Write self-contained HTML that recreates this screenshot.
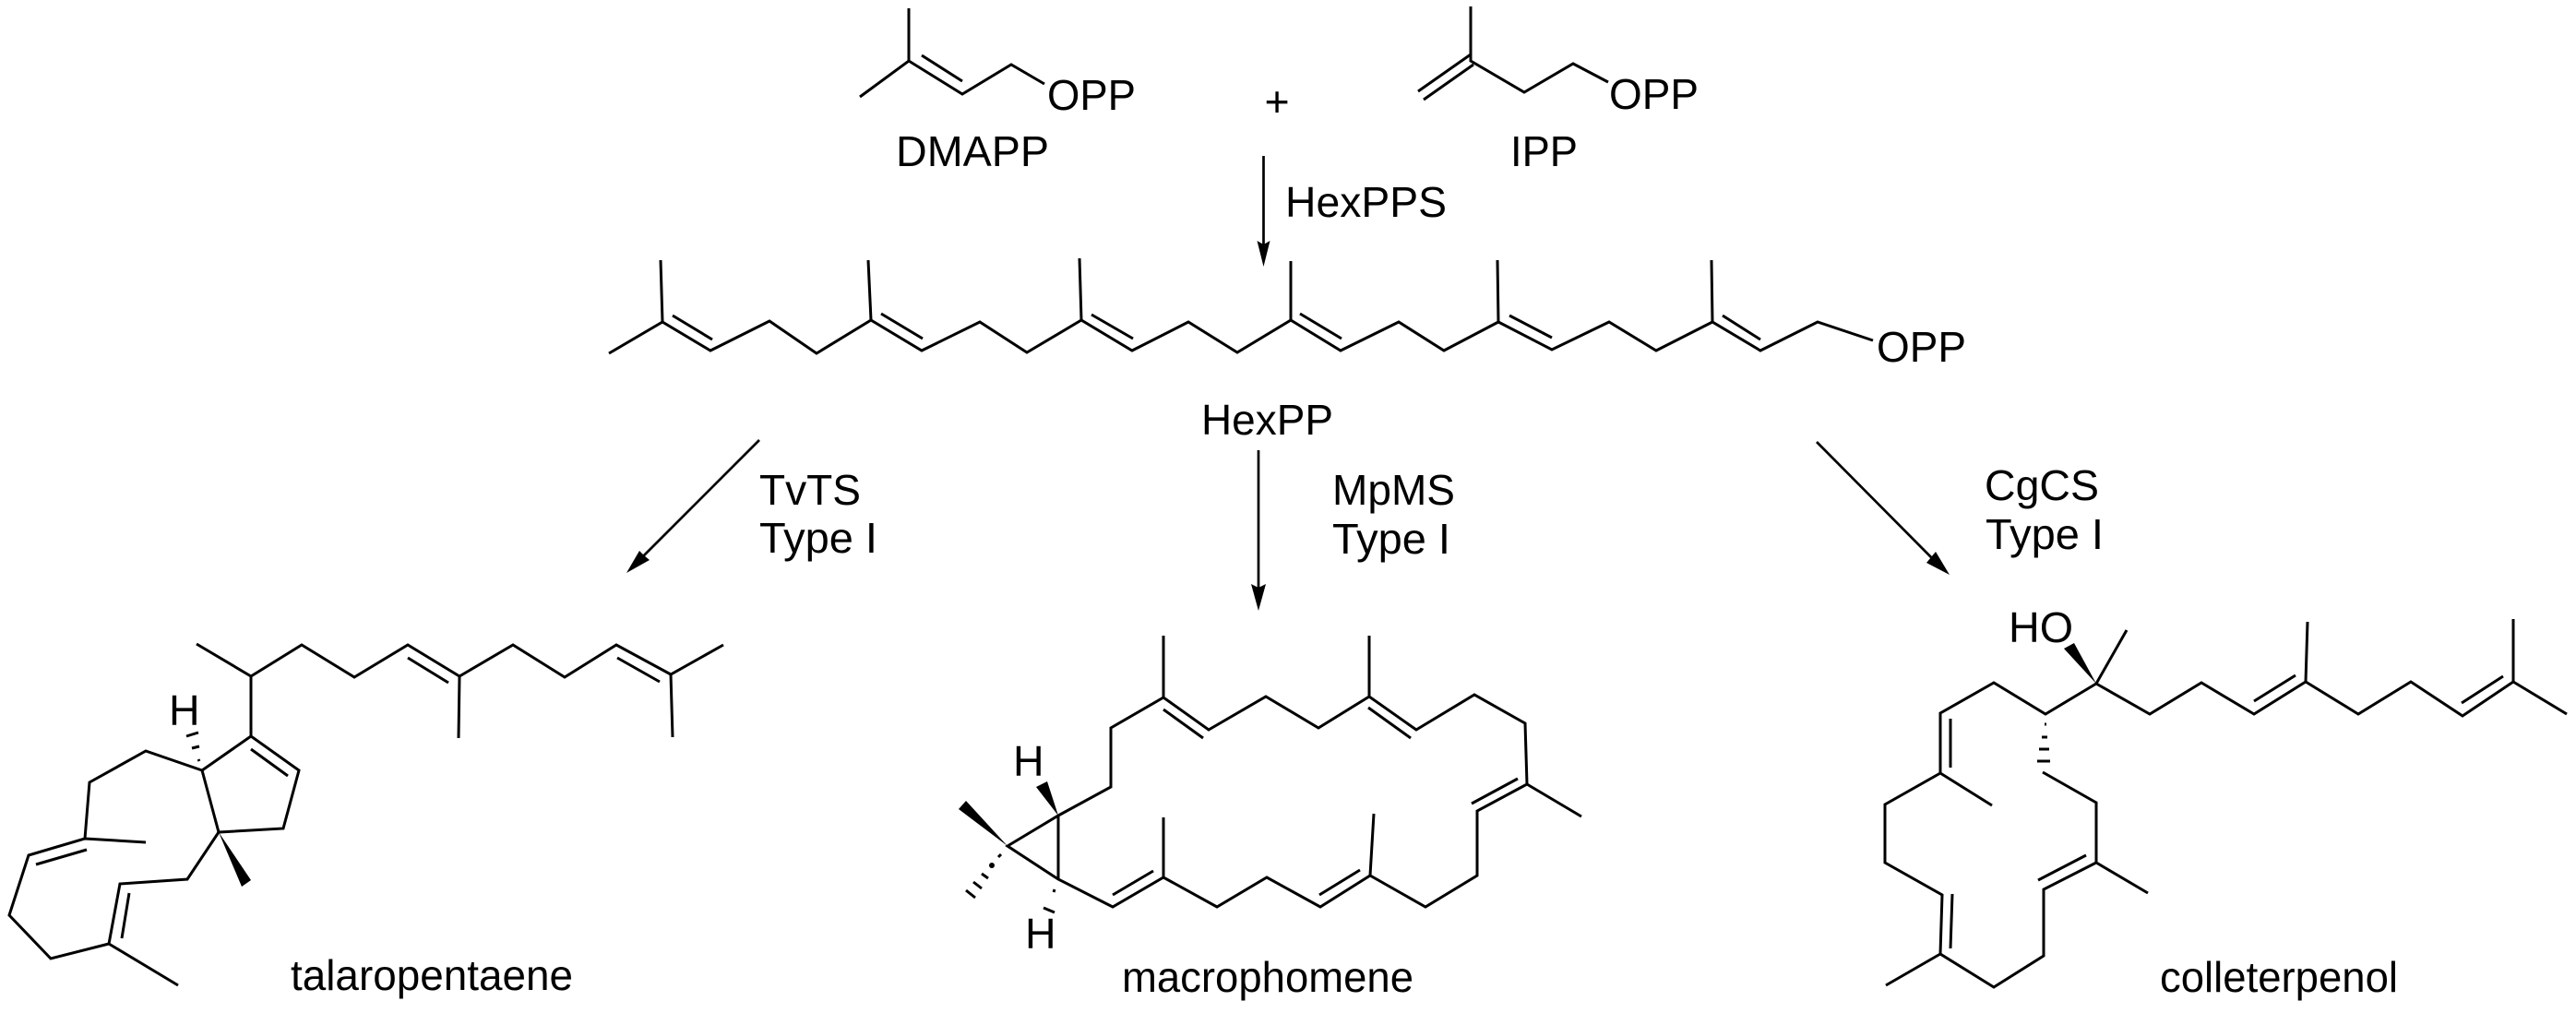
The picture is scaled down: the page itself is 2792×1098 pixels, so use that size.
<!DOCTYPE html>
<html lang="en">
<head>
<meta charset="utf-8">
<title>Sesterterpene biosynthesis</title>
<style>
html,body{margin:0;padding:0;background:#fff;width:2792px;height:1098px;overflow:hidden}
svg{display:block}
.b{fill:none;stroke:#000;stroke-width:3;stroke-linejoin:miter;stroke-linecap:butt}
.a{fill:none;stroke:#000;stroke-width:2.7}
.h{fill:none;stroke:#000;stroke-width:3}
.f{fill:#000;stroke:none}
text{font-family:"Liberation Sans",sans-serif;font-size:46.5px;fill:#000}
</style>
</head>
<body>
<svg width="2792" height="1098" viewBox="0 0 2792 1098" xmlns="http://www.w3.org/2000/svg">
<!-- DMAPP -->
<path class="b" d="M985 9V66M932 105L985 66L1043 102L1096 70L1132 91M999 60L1043 88"/>
<text x="1135" y="119" textLength="96" lengthAdjust="spacingAndGlyphs">OPP</text>
<text x="971" y="180" textLength="166" lengthAdjust="spacingAndGlyphs">DMAPP</text>
<text x="1370.5" y="126">+</text>
<!-- IPP -->
<path class="b" d="M1594 7V66L1652 100L1705 69L1743 89M1594 59L1537 99M1597 70L1543 108"/>
<text x="1744" y="118" textLength="97" lengthAdjust="spacingAndGlyphs">OPP</text>
<text x="1637" y="180" textLength="73" lengthAdjust="spacingAndGlyphs">IPP</text>
<!-- arrow top -->
<path class="a" d="M1369.5 169V266"/>
<path class="f" d="M1369.5 289L1362.5 261L1369.5 265L1376.5 261Z"/>
<text x="1393" y="235" textLength="175" lengthAdjust="spacingAndGlyphs">HexPPS</text>
<!-- HexPP chain -->
<path class="b" d="M660 383L718 349L770 380L834 348L885 383L944 347L999 380L1062 349L1113 382L1172 347L1227 380L1288 349L1341 382L1399 347L1453 380L1516 349L1565 380L1624 349L1682 379L1744 349L1795 380L1856 349L1908 380L1970 349L2030 369"/>
<path class="b" d="M716 282L718 349M729 342L772 368M941 282L944 347M955 340L1000 367M1170 280L1172 347M1183 341L1228 367M1399 283V347M1409 340L1454 367M1623 282L1624 349M1636 342L1682 366M1855 282L1856 349M1867 342L1908 368"/>
<text x="2034" y="392" textLength="97" lengthAdjust="spacingAndGlyphs">OPP</text>
<text x="1302" y="471" textLength="143" lengthAdjust="spacingAndGlyphs">HexPP</text>
<!-- arrows down -->
<path class="a" d="M823 477L697 603"/>
<path class="f" d="M679 621L693 597L698 602L704 607Z"/>
<text x="823" y="547" textLength="110" lengthAdjust="spacingAndGlyphs">TvTS</text>
<text x="823" y="599" textLength="128" lengthAdjust="spacingAndGlyphs">Type I</text>
<path class="a" d="M1364 488V638"/>
<path class="f" d="M1364 662L1356 633L1364 637L1372 633Z"/>
<text x="1444" y="547" textLength="133" lengthAdjust="spacingAndGlyphs">MpMS</text>
<text x="1444" y="600" textLength="128" lengthAdjust="spacingAndGlyphs">Type I</text>
<path class="a" d="M1969 479L2095 606"/>
<path class="f" d="M2113 623L2088 610L2093 604L2098 598Z"/>
<text x="2151" y="542" textLength="124" lengthAdjust="spacingAndGlyphs">CgCS</text>
<text x="2152" y="595" textLength="128" lengthAdjust="spacingAndGlyphs">Type I</text>
<!-- talaropentaene -->
<path class="b" d="M213 698L272 733L327 699L384 734L442 699L498 733L556 699L612 734L668 699L727 731L784 699M498 733L497 800M727 731L729 799M442 713L486 740M669 713L715 739M272 733V798L324 835L307 898L237 902L219 835L272 798M272 812L312 841"/>
<path class="b" d="M219 835L158 814L97 848L92 909L31 927L10 992L55 1039L118 1023L130 958L203 953L237 902M92 909L158 913M39 937L94 921M140 968L132 1017M118 1023L193 1068"/>
<path class="f" d="M237 902L262 961L272 954Z"/>
<path class="h" d="M215 823L216 825M208 811L216 809M202 798L215 794"/>
<text x="183" y="786">H</text>
<text x="315" y="1073" textLength="306" lengthAdjust="spacingAndGlyphs">talaropentaene</text>
<!-- macrophomene -->
<path class="b" d="M1147 884L1204 853V789L1261 756L1310 791L1372 755L1429 789L1484 755L1535 791L1598 753L1653 784L1655 850L1601 879V949L1545 983L1485 949L1431 983L1373 951L1319 983L1261 951L1206 983L1147 953V884L1092 917L1147 953"/>
<path class="b" d="M1261 689V756M1261 769L1304 800M1484 689V755M1483 767L1529 800M1655 850L1714 885M1645 844L1595 871M1489 882L1485 949M1474 943L1430 970M1261 886V951M1250 944L1206 970"/>
<path class="f" d="M1147 884L1123 853L1135 847Z"/>
<path class="f" d="M1092 917L1039 877L1047 868Z"/>
<circle class="f" cx="1075" cy="938" r="3"/>
<path class="h" d="M1082 929L1085 926M1064 947L1071 952M1055 956L1064 963M1047 965L1057 973"/>
<path class="h" d="M1143 964L1142 967M1131 984L1143 989"/>
<text x="1098" y="841">H</text>
<text x="1111" y="1028">H</text>
<text x="1216" y="1075" textLength="316" lengthAdjust="spacingAndGlyphs">macrophomene</text>
<!-- colleterpenol -->
<path class="b" d="M2272 741L2330 774L2386 740L2443 774L2499 739L2556 774L2613 739L2669 776L2724 739L2782 774M2272 741L2305 683M2499 739L2501 674M2724 739V671M2443 760L2488 732M2668 762L2713 733"/>
<path class="b" d="M2272 741L2217 774L2161 740L2103 773V838L2043 872V935L2105 970L2103 1034L2161 1070L2215 1036V964L2272 935L2328 968M2272 935V870L2214 837M2114 779V832M2103 838L2159 873M2116 969L2114 1028M2103 1034L2044 1068M2209 954L2261 927"/>
<path class="f" d="M2272 741L2237 703L2248 697Z"/>
<path class="h" d="M2216 785L2218 785M2213 799L2219 799M2210 812L2221 812M2208 825L2222 825"/>
<text x="2177" y="696" textLength="70" lengthAdjust="spacingAndGlyphs">HO</text>
<text x="2341" y="1075" textLength="258" lengthAdjust="spacingAndGlyphs">colleterpenol</text>
</svg>
</body>
</html>
